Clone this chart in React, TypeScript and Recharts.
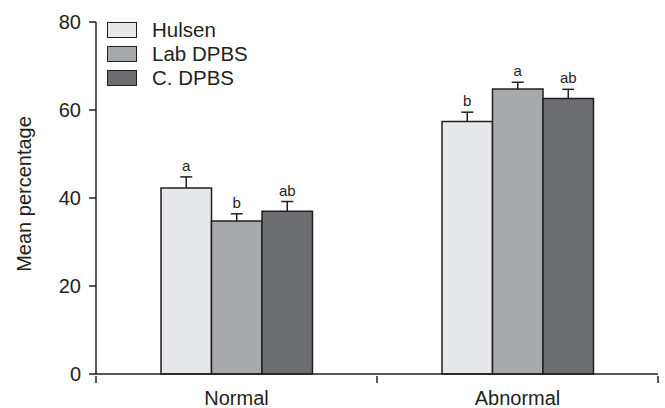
import React from 'react';
import { BarChart, Bar, XAxis, YAxis, LabelList } from 'recharts';

const CATEGORIES = ['Normal', 'Abnormal'];

const HULSEN = [42.3, 57.4];
const HULSEN_ERR = [2.5, 2.1];
const HULSEN_SIG = ['a', 'b'];

const LAB_DPBS = [34.8, 64.8];
const LAB_DPBS_ERR = [1.6, 1.5];
const LAB_DPBS_SIG = ['b', 'a'];

const C_DPBS = [37.0, 62.6];
const C_DPBS_ERR = [2.2, 2.1];
const C_DPBS_SIG = ['ab', 'ab'];

const Y_TICKS = [0, 20, 40, 60, 80];

const SERIES = [
  { key: 'hulsen', label: 'Hulsen', color: '#e6e7e9' },
  { key: 'lab', label: 'Lab DPBS', color: '#a7a9ac' },
  { key: 'cdpbs', label: 'C. DPBS', color: '#6d6e71' },
];

const INK = '#231f20';
const FONT = '"Liberation Sans", Arial, sans-serif';

const data = CATEGORIES.map((name, i) => ({
  name,
  hulsen: HULSEN[i], hulsenErr: HULSEN_ERR[i], hulsenSig: HULSEN_SIG[i],
  lab: LAB_DPBS[i], labErr: LAB_DPBS_ERR[i], labSig: LAB_DPBS_SIG[i],
  cdpbs: C_DPBS[i], cdpbsErr: C_DPBS_ERR[i], cdpbsSig: C_DPBS_SIG[i],
}));

// upward-only error whisker drawn on the invisible stacked segment
function Whisker(props: any) {
  const { x, y, width, height } = props;
  if (x == null || y == null) return null;
  const cx = x + width / 2;
  return (
    <g stroke={INK} strokeWidth={1.5}>
      <line x1={cx} x2={cx} y1={y + height} y2={y} />
      <line x1={cx - 6} x2={cx + 6} y1={y} y2={y} />
    </g>
  );
}

// category label centred, tick marks on the category boundaries
function CategoryTick(props: any) {
  const { x, y, payload, index, visibleTicksCount } = props;
  const half = payload?.offset ?? 0;
  const last = index === (visibleTicksCount ?? CATEGORIES.length) - 1;
  return (
    <g>
      <line x1={x - half} x2={x - half} y1={y} y2={y + 7} stroke={INK} strokeWidth={1.5} />
      {last && <line x1={x + half} x2={x + half} y1={y} y2={y + 7} stroke={INK} strokeWidth={1.5} />}
      <text x={x} y={y + 29} textAnchor="middle" fontSize={20} fill={INK} fontFamily={FONT}>
        {payload.value}
      </text>
    </g>
  );
}

export default function App() {
  return (
    <div style={{ position: 'absolute', left: 0, top: 0, width: 665, height: 408, background: '#fff', fontFamily: FONT }}>
      <BarChart
        width={665}
        height={408}
        data={data}
        margin={{ top: 22, right: 7, bottom: 0, left: 0 }}
        barGap={0}
        barSize={50.5}
      >
        <XAxis
          dataKey="name"
          height={34}
          axisLine={{ stroke: INK, strokeWidth: 1.5 }}
          tickLine={false}
          tickSize={0}
          tick={<CategoryTick />}
          interval={0}
        />
        <YAxis
          width={96}
          domain={[0, 80]}
          ticks={Y_TICKS}
          tickSize={7}
          tickMargin={8}
          axisLine={{ stroke: INK, strokeWidth: 1.5 }}
          tickLine={{ stroke: INK, strokeWidth: 1.5 }}
          tick={{ fontSize: 20, fill: INK, fontFamily: FONT }}
          label={{
            content: ({ viewBox }: any) => {
              const cy = viewBox.y + viewBox.height / 2 - 4;
              return (
                <text
                  x={31}
                  y={cy}
                  transform={`rotate(-90 31 ${cy})`}
                  textAnchor="middle"
                  fontSize={20}
                  fill={INK}
                  fontFamily={FONT}
                >
                  Mean percentage
                </text>
              );
            },
          }}
        />
        {SERIES.map((s) => [
          <Bar
            key={s.key}
            dataKey={s.key}
            stackId={s.key}
            fill={s.color}
            stroke={INK}
            strokeWidth={1.5}
            isAnimationActive={false}
          />,
          <Bar
            key={s.key + 'Err'}
            dataKey={s.key + 'Err'}
            stackId={s.key}
            fill="none"
            shape={<Whisker />}
            isAnimationActive={false}
          >
            <LabelList dataKey={s.key + 'Sig'} position="top" offset={6} fontSize={15} fill={INK} fontFamily={FONT} />
          </Bar>,
        ])}
      </BarChart>

      {/* Legend */}
      <div style={{ position: 'absolute', left: 107, top: 22 }}>
        {SERIES.map((s) => (
          <div key={s.key} style={{ display: 'flex', alignItems: 'center', height: 16, marginBottom: 8 }}>
            <span
              style={{
                width: 28, height: 14, background: s.color, border: `1.5px solid ${INK}`,
                display: 'inline-block', flexShrink: 0,
              }}
            />
            <span style={{ marginLeft: 15, fontSize: 20.5, color: INK, lineHeight: '16px' }}>{s.label}</span>
          </div>
        ))}
      </div>
    </div>
  );
}
